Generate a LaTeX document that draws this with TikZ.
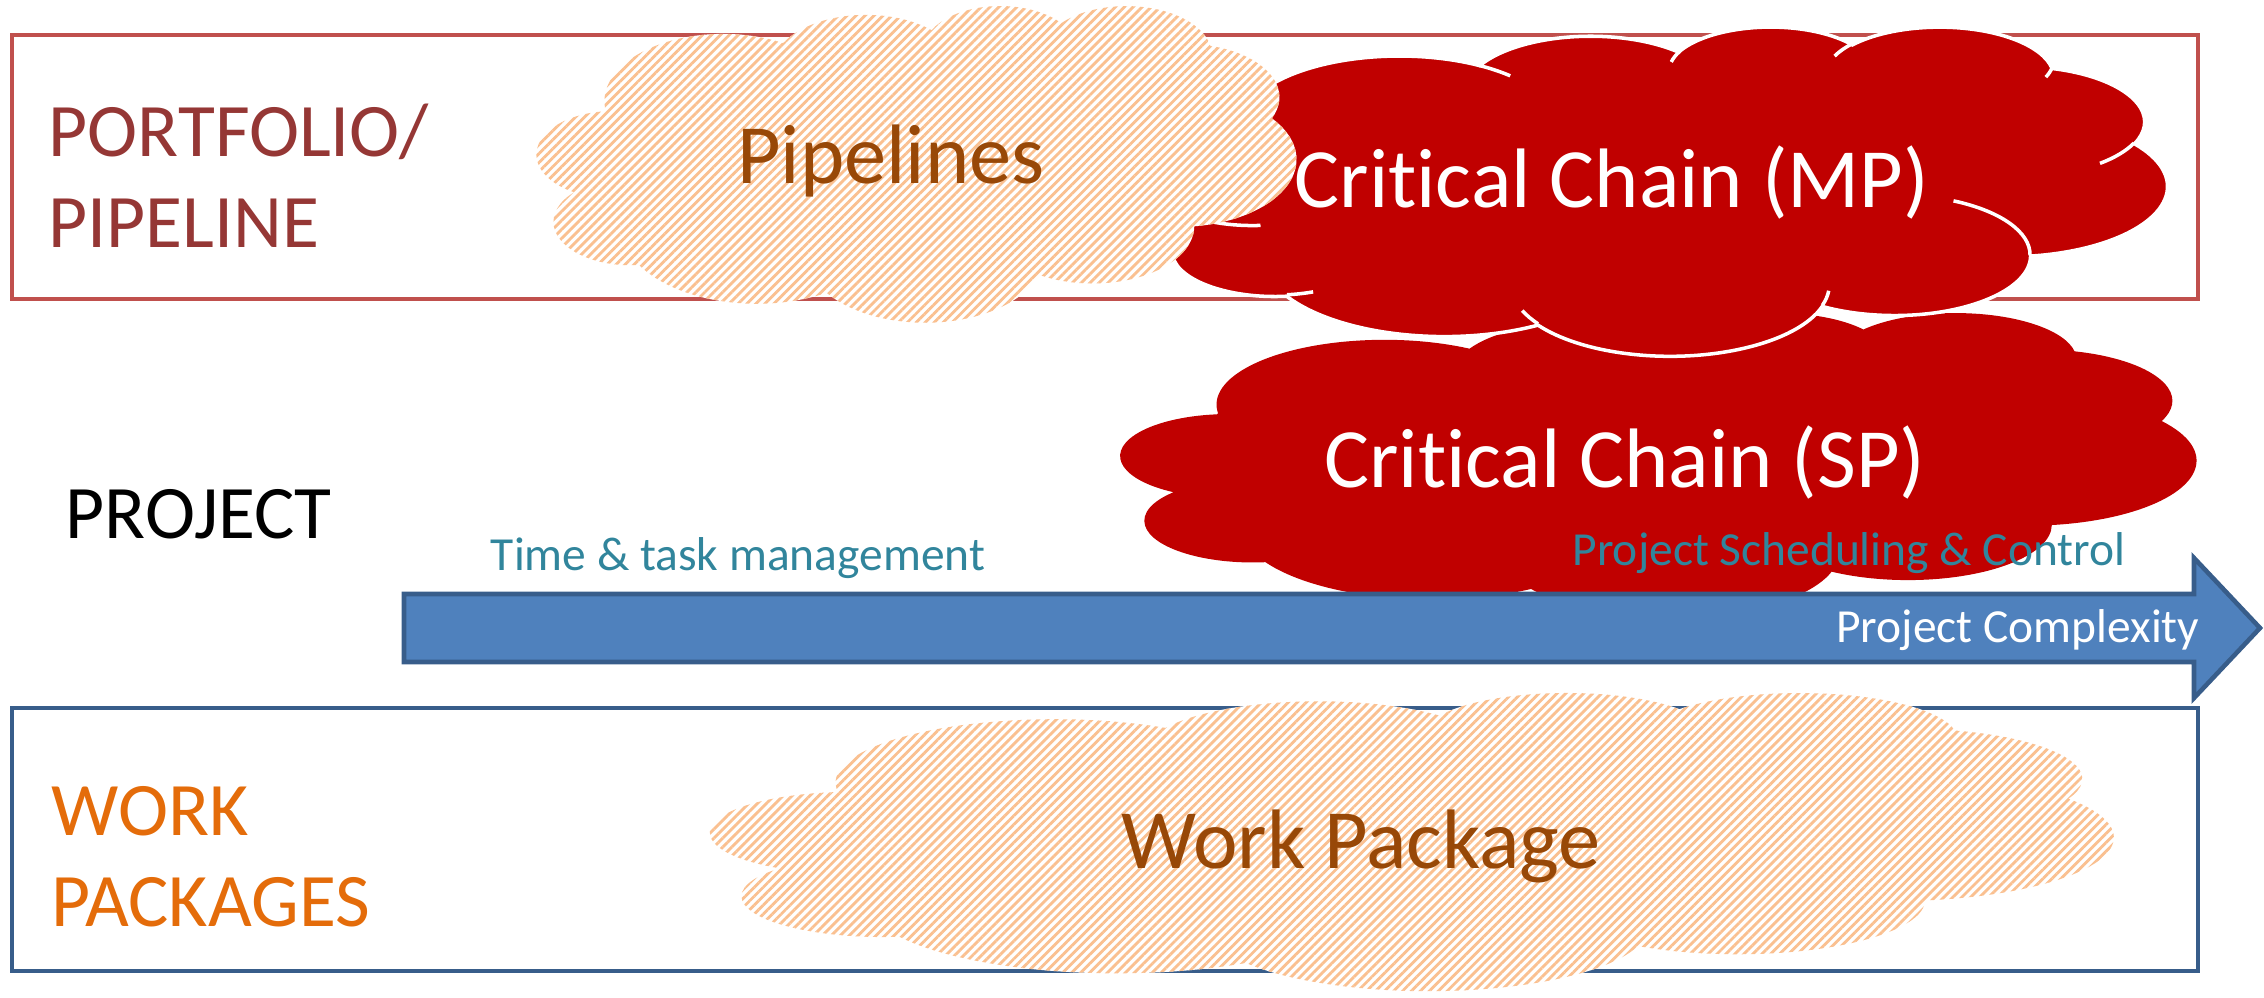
\documentclass[tikz,border=0pt]{standalone}
\usepackage{fontspec}
\setmainfont{Carlito}[Ligatures=NoCommon]
\usetikzlibrary{patterns.meta}
\definecolor{portline}{HTML}{C0504D}
\definecolor{porttext}{HTML}{953735}
\definecolor{wpline}{HTML}{385D8A}
\definecolor{wptext}{HTML}{E46C0A}
\definecolor{chainred}{HTML}{C00000}
\definecolor{hatch}{HTML}{FAC090}
\definecolor{browntext}{HTML}{984807}
\definecolor{tealtext}{HTML}{31859C}
\definecolor{arrowfill}{HTML}{4F81BD}
% arc of an ellipse: radii, start and sweep given as seen from the centre
\newcommand\pptarc[4]{arc[x radius=#1, y radius=#2,
  start angle={atan2(#1*sin(#3),#2*cos(#3))},
  delta angle={mod(atan2(#1*sin(#3+#4),#2*cos(#3+#4))-atan2(#1*sin(#3),#2*cos(#3))+720,360)}]}
\newcommand\cloudoutline{(39,143.7)
  \pptarc{67.53}{91.90}{-190.4875}{123.7805}
  \pptarc{53.33}{72.67}{-144.1024}{89.9452}
  \pptarc{43.65}{59.45}{-145.8079}{99.7230}
  \pptarc{48.57}{65.95}{-130.9861}{117.2417}
  \pptarc{53.33}{72.73}{-78.7089}{109.0269}
  \pptarc{67.75}{92.20}{-46.2673}{130.2690}
  \pptarc{57.85}{78.67}{0.6250}{114.0333}
  \pptarc{67.52}{92.15}{22.4516}{115.1726}
  \pptarc{77.20}{105.43}{66.2426}{75.7110}
  \pptarc{43.60}{59.18}{-274.9421}{146.7356}
  \pptarc{43.45}{59.45}{-246.8285}{152.5189} -- cycle}
\newcommand\cloudinner{
  (46.93,261.77) \pptarc{43.45}{59.45}{86.7420}{26.4295}
  (69.28,348.99) \pptarc{43.60}{59.18}{73.6105}{11.4475}
  (164.78,390.90) \pptarc{67.52}{92.15}{137.6242}{14.0811}
  (288.27,347.51) \pptarc{67.52}{92.15}{6.4533}{15.9984}
  (341.29,229.54) \pptarc{57.85}{78.67}{-70.2924}{70.9174}
  (417.98,153.54) \pptarc{53.33}{72.73}{30.3180}{27.7515}
  (383.24,54.26) \pptarc{48.57}{65.95}{13.7443}{14.8589}
  (290.78,39.52) \pptarc{48.57}{65.95}{-149.1815}{18.1954}
  (221.41,47.20) \pptarc{43.65}{59.45}{-163.4943}{17.6864}
  (140.00,51.92) \pptarc{67.53}{91.90}{-66.7070}{12.3194}
  (41.27,157.89) \pptarc{67.53}{91.90}{157.6544}{11.8582}}
% left, top, width, height, paths
\newcommand\cloudbox[5]{%
  \pgfmathsetmacro\cloudsx{#3/432/100}%
  \pgfmathsetmacro\cloudsy{-#4/432/100}%
  \begin{scope}[shift={(#1,#2)}, x=\cloudsx cm, y=\cloudsy cm]
    #5
  \end{scope}}
\begin{document}
\begin{tikzpicture}[
    x=0.01cm, y=-0.01cm,
    levelbox/.style={line width=1.4pt},
    hatchfill/.style={preaction={fill=white},
      pattern={Lines[angle=45,distance=1.8pt,line width=0.8pt]},
      pattern color=hatch},
    chainfill/.style={fill=chainred},
    big/.style={font=\fontsize{24}{28}\selectfont},
    level/.style={font=\fontsize{21.5}{25.6}\selectfont, align=left,
      inner sep=0pt},
    small/.style={font=\fontsize{13.5}{16}\selectfont, inner sep=0pt}
  ]
  \useasboundingbox (0,0) rectangle (2264,997);

  \draw[levelbox, draw=portline] (12,35) rectangle (2198,299);
  \draw[levelbox, draw=wpline] (12,708) rectangle (2198,971);

  \cloudbox{1121}{312}{1075}{305}{\path[chainfill] \cloudoutline;}
  \cloudbox{1150}{26}{1017}{329}{%
    \path[chainfill, draw=white, line width=1pt] \cloudoutline;
    \path[draw=white, line width=1pt] \cloudinner;}
  \cloudbox{537}{5}{759}{317}{\path[hatchfill] \cloudoutline;}
  \cloudbox{711}{692}{1402}{298}{\path[hatchfill] \cloudoutline;}

  \draw[fill=arrowfill, draw=wpline, line width=1.3pt]
    (404,594) -- (2194,594) -- (2194,558) -- (2260,628)
    -- (2194,698) -- (2194,662) -- (404,662) -- cycle;

  \node[level, text=porttext, anchor=base west] (portfolio) at (48,247)
    {PORTFOLIO/\\PIPELINE};
  \node[level, anchor=base west] (project) at (65,538) {PROJECT};
  \node[level, text=wptext, anchor=base west] (workpk) at (51,926)
    {WORK\\PACKAGES};

  \node[big, text=browntext, anchor=base] (pipelabel) at (891,183)
    {Pipelines};
  \node[big, text=white, anchor=base] (mplabel) at (1612,208)
    {Critical Chain (MP)};
  \node[big, text=white, anchor=base] (splabel) at (1625,487)
    {Critical Chain (SP)};
  \node[big, text=browntext, anchor=base] (wplabel) at (1361,868)
    {Work Package};

  \node[small, text=tealtext, anchor=base] (timetask) at (738,570)
    {Time \& task management};
  \node[small, text=tealtext, anchor=base] (sched) at (1849,565)
    {Project Scheduling \& Control};
  \node[small, text=white, anchor=base east] (complexity) at (2200,642)
    {Project Complexity};
\end{tikzpicture}
\end{document}
